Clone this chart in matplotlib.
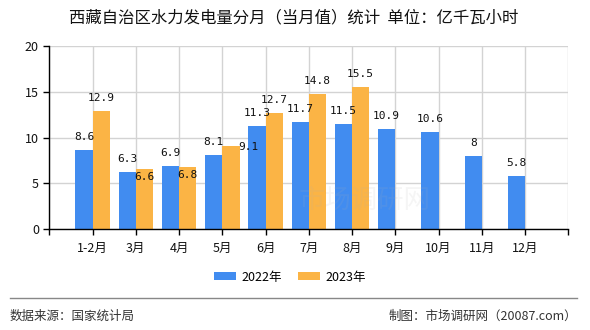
import matplotlib
matplotlib.use("Agg")
import matplotlib.pyplot as plt
from matplotlib.lines import Line2D
import numpy as np

plt.rcParams["font.family"] = ["Noto Sans CJK SC", "DejaVu Sans"]

# data
months = ["1-2月", "3月", "4月", "5月", "6月", "7月", "8月", "9月", "10月", "11月", "12月"]
values_2022 = [8.6, 6.3, 6.9, 8.1, 11.3, 11.7, 11.5, 10.9, 10.6, 8, 5.8]
values_2023 = [12.9, 6.6, 6.8, 9.1, 12.7, 14.8, 15.5]
series_names = ["2022年", "2023年"]
y_ticks = [0, 5, 10, 15, 20]

blue = "#418cf0"
orange = "#fbb445"
px = 0.72  # pixel -> points at dpi 100

# label nudges (in px) for the 2023 labels that the original chart moved
nudge_2023 = {1: (0, -21), 2: (0, -21), 3: (17, -14)}

fig = plt.figure(figsize=(5.9, 3.3), dpi=100)
ax = fig.add_axes([49.3 / 590, 1 - 229.3 / 330, 519 / 590, 183.3 / 330])

x1 = np.arange(1, len(values_2022) + 1)
x2 = np.arange(1, len(values_2023) + 1)
w = 0.4
b1 = ax.bar(x1 - w / 2, values_2022, width=w, color=blue, label=series_names[0], zorder=3)
b2 = ax.bar(x2 + w / 2, values_2023, width=w, color=orange, label=series_names[1], zorder=3)

for rect, v in zip(b1, values_2022):
    ax.annotate(f"{v:g}", (rect.get_x() + rect.get_width() / 2, v),
                xytext=(0, 13 * px), textcoords="offset points",
                ha="center", va="center", fontsize=8, family="DejaVu Sans Mono",
                color="#111111", zorder=5)
for i, (rect, v) in enumerate(zip(b2, values_2023)):
    dx, dy = nudge_2023.get(i, (0, 0))
    ax.annotate(f"{v:g}", (rect.get_x() + rect.get_width() / 2, v),
                xytext=(dx * px, (13 + dy) * px), textcoords="offset points",
                ha="center", va="center", fontsize=8, family="DejaVu Sans Mono",
                color="#111111", zorder=5)

ax.set_xlim(0, 12)
ax.set_ylim(0, 20)
ax.set_yticks(y_ticks)
ax.set_xticks(range(0, 13))
ax.set_xticklabels([""] + months + [""])
ax.tick_params(axis="both", direction="out", length=4, width=1, color="black",
               labelsize=9, labelcolor="#111111")
ax.tick_params(axis="x", pad=5)

ax.grid(True, color="#d3d3d3", linewidth=1, zorder=0)
ax.set_axisbelow(True)
for side in ["top", "right"]:
    ax.spines[side].set_visible(False)
for side in ["left", "bottom"]:
    ax.spines[side].set_color("black")
    ax.spines[side].set_linewidth(1)
    ax.spines[side].set_zorder(4)

# faint watermark
ax.text(7.3, 3.2, "市场调研网", fontsize=19, color="#b0b0b0", alpha=0.12,
        ha="center", va="center", zorder=4)

fig.text(294 / 590, 1 - 17.5 / 330, "西藏自治区水力发电量分月（当月值）统计  单位：亿千瓦小时",
         ha="center", va="center", fontsize=11.8, color="#111111")

fig.legend(handles=[b1, b2], labels=series_names, loc="center",
           bbox_to_anchor=(290 / 590, 1 - 277 / 330), ncol=2, frameon=False,
           fontsize=9, handlelength=1.76, handleheight=0.64,
           handletextpad=0.4, columnspacing=1.3)

fig.add_artist(Line2D([10 / 590, 577 / 590], [1 - 298 / 330, 1 - 298 / 330],
                      color="#888888", linewidth=1))
fig.text(10 / 590, 1 - 316 / 330, "数据来源：国家统计局", ha="left", va="center",
         fontsize=9, color="#333333")
fig.text(577 / 590, 1 - 316 / 330, "制图：市场调研网（20087.com）", ha="right", va="center",
         fontsize=9, color="#333333")

fig.savefig("out.png", dpi=100)
